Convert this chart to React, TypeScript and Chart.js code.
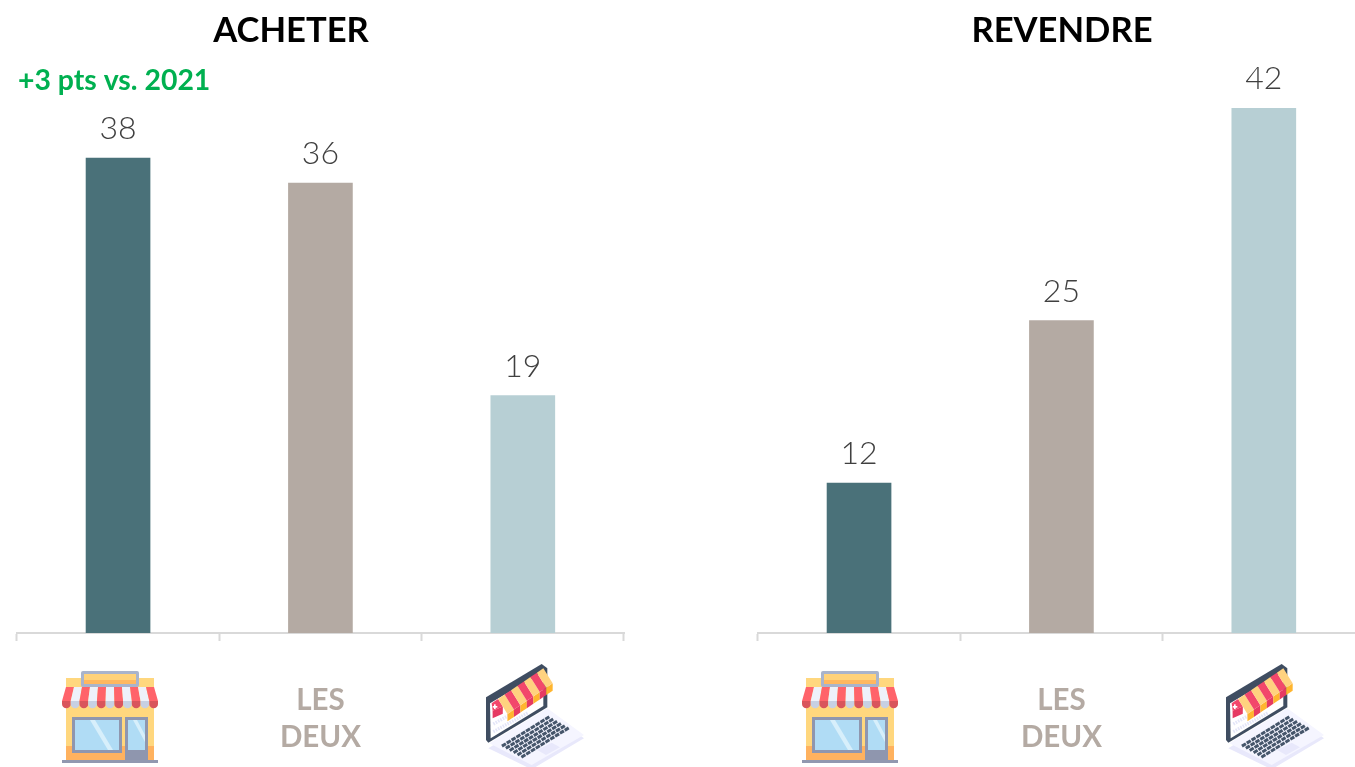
import React, { useEffect, useRef } from "react";
import { Chart, registerables } from "chart.js";

Chart.register(...registerables);

const categories = ["Magasin", "LES DEUX", "Internet"];
const tickLabels = ["", ["LES", "DEUX"], ""];
const acheterValues = [38, 36, 19];
const revendreValues = [12, 25, 42];
const barColors = ["#4a7179", "#b4aaa3", "#b7cfd4"];
const acheterTitle = "ACHETER";
const revendreTitle = "REVENDRE";
const noteText = "+3 pts vs. 2021";

const FONT = "Lato, 'Open Sans', sans-serif";

type PanelProps = {
  left: number;
  values: number[];
  title: string;
  titleX: number;
  note?: string;
};

function Panel({ left, values, title, titleX, note }: PanelProps) {
  const ref = useRef<HTMLCanvasElement | null>(null);
  useEffect(() => {
    const labelPlugin = {
      id: "panelText",
      afterDatasetsDraw(chart: any) {
        const { ctx } = chart;
        ctx.save();
        ctx.textAlign = "center";
        ctx.textBaseline = "middle";
        ctx.fillStyle = "#000000";
        ctx.font = `bold 34.6px ${FONT}`;
        ctx.fillText(title, titleX, 31);
        if (note) {
          ctx.textAlign = "left";
          ctx.fillStyle = "#00b050";
          ctx.font = `bold 28.4px ${FONT}`;
          ctx.fillText(note, 18, 81);
        }
        ctx.textAlign = "center";
        ctx.textBaseline = "alphabetic";
        ctx.fillStyle = "#404040";
        ctx.font = `300 32px ${FONT}`;
        const meta = chart.getDatasetMeta(0);
        meta.data.forEach((bar: any, i: number) => {
          ctx.fillText(String(values[i]), bar.x, bar.y - 19);
        });
        ctx.restore();
      },
    };
    const chart = new Chart(ref.current as HTMLCanvasElement, {
      type: "bar",
      data: {
        labels: categories,
        datasets: [
          {
            data: values,
            backgroundColor: barColors,
            barThickness: 64,
          },
        ],
      },
      options: {
        animation: false,
        responsive: false,
        layout: { padding: { left: 16.85, right: 16, top: 108, bottom: 0 } },
        plugins: {
          legend: { display: false },
          tooltip: { enabled: false },
          title: { display: false },
        },
        scales: {
          y: { display: false, min: 0, max: 42 },
          x: {
            afterFit(scale: any) {
              scale.height = 134;
            },
            border: { display: true, color: "#d9d9d9", width: 2 },
            grid: {
              display: true,
              offset: true,
              drawOnChartArea: false,
              drawTicks: true,
              tickLength: 8,
              tickWidth: 2,
              tickColor: "#d9d9d9",
              color: "#d9d9d9",
            },
            ticks: {
              autoSkip: false,
              maxRotation: 0,
              padding: 41,
              color: "#b4aaa3",
              font: { family: FONT, size: 29.5, weight: "bold", lineHeight: 1.254 },
              callback: (_v: any, i: number) => tickLabels[i] as any,
            },
          },
        },
      },
      plugins: [labelPlugin],
    } as any);
    return () => chart.destroy();
  }, []);
  return (
    <canvas
      ref={ref}
      width={640}
      height={767}
      style={{ position: "absolute", left, top: 0, width: 640, height: 767 }}
    />
  );
}

function Shop({ dx }: { dx: number }) {
  const stripes = Array.from({ length: 11 }, (_, i) => i);
  const w = 96 / 11;
  const topW = 88 / 11;
  return (
    <g transform={`translate(${dx},0)`}>
      <rect x={66} y={678} width={88} height={82} fill="#ffd77e" />
      <rect x={66} y={746} width={88} height={14} fill="#ffb25f" />
      <rect x={81} y={671} width={58} height={16} rx={2} fill="#a9b4cc" />
      <rect x={84} y={674} width={52} height={10} fill="#ffd27a" />
      <rect x={84} y={680} width={52} height={4} fill="#ffb85f" />
      {stripes.map((i) => {
        const red = i % 2 === 0;
        const xb = 62 + i * w;
        const xt = 66 + i * topW;
        return (
          <g key={i}>
            <polygon
              points={`${xt},687 ${xt + topW},687 ${xb + w},701 ${xb},701`}
              fill={red ? "#ff636a" : "#eef1fa"}
            />
            <path
              d={`M${xb},701 h${w} v3 a${w / 2},${w / 2} 0 0 1 ${-w},0 z`}
              fill={red ? "#d9545c" : "#c7d0e3"}
            />
          </g>
        );
      })}
      <rect x={72} y={717} width={50} height={36} fill="#8f96ae" />
      <rect x={75} y={720} width={44} height={30} fill="#b0dcf5" />
      <polygon points="90,720 95,720 113,750 108,750" fill="#d7effb" />
      <rect x={125} y={717} width={23} height={43} fill="#8f96ae" />
      <rect x={128} y={720} width={17} height={30} fill="#b0dcf5" />
      <polygon points="133,720 137,720 145,735 145,742" fill="#d7effb" />
      <rect x={62} y={760} width={96} height={3} fill="#9198b0" />
    </g>
  );
}

function Laptop({ dx }: { dx: number }) {
  const A = [95, 160];
  const B = [250, 55];
  const d = [28, 45];
  const n = 8;
  const K1 = [120, 285];
  const K2 = [262, 197];
  const K4 = [190, 325];
  return (
    <g transform={`translate(${460 + dx},650) scale(${1 / 3})`}>
      <polygon points="85,295 262,185 372,265 215,358" fill="#e8e8fb" />
      <polygon points="88,280 262,175 372,255 215,345" fill="#f5f5ff" />
      {[0, 1, 2, 3, 4, 5].map((r) => {
        const f = (r + 0.5) / 6;
        const ox = (K4[0] - K1[0]) * f;
        const oy = (K4[1] - K1[1]) * f;
        return (
          <line
            key={r}
            x1={K1[0] + ox}
            y1={K1[1] + oy}
            x2={K2[0] + ox}
            y2={K2[1] + oy}
            stroke="#46566b"
            strokeWidth={9}
            strokeDasharray="14 3"
          />
        );
      })}
      <polygon points="232,300 275,278 300,292 258,315" fill="#e8e8fb" />
      <polygon points="78,142 245,42 262,55 262,172 85,278 78,270" fill="#3f4d61" />
      <polygon points="90,160 250,65 250,168 92,265" fill="#ffffff" />
      <line x1={100} y1={222} x2={225} y2={152} stroke="#e4e6f8" strokeWidth={10} strokeDasharray="5 3" />
      <line x1={100} y1={245} x2={205} y2={188} stroke="#e4e6f8" strokeWidth={10} strokeDasharray="5 3" />
      {Array.from({ length: n }, (_, i) => i).map((i) => {
        const t1 = i / n;
        const t2 = (i + 1) / n;
        const p1 = [A[0] + (B[0] - A[0]) * t1, A[1] + (B[1] - A[1]) * t1];
        const p2 = [A[0] + (B[0] - A[0]) * t2, A[1] + (B[1] - A[1]) * t2];
        const p3 = [p2[0] + d[0] * (i === 0 ? 0.5 : 1), p2[1] + d[1] * (i === 0 ? 0.5 : 1)];
        const p4 = [p1[0] + d[0] * (i === 0 ? 0.1 : 1), p1[1] + d[1] * (i === 0 ? 0.5 : 1)];
        const pink = i % 2 === 0;
        return (
          <g key={i}>
            <polygon
              points={`${p4[0]},${p4[1]} ${p3[0]},${p3[1]} ${p3[0]},${p3[1] + 22} ${p4[0]},${p4[1] + 22}`}
              fill={pink ? "#e63a62" : "#ffb52e"}
            />
            <polygon
              points={`${p1[0]},${p1[1]} ${p2[0]},${p2[1]} ${p3[0]},${p3[1]} ${p4[0]},${p4[1]}`}
              fill={pink ? "#f2476b" : "#ffd27f"}
            />
          </g>
        );
      })}
      <rect x={98} y={168} width={14} height={5} fill="#ffffff" />
      <rect x={102} y={163} width={5} height={14} fill="#ffffff" />
    </g>
  );
}

export default function App() {
  return (
    <div
      style={{
        position: "fixed",
        left: 0,
        top: 0,
        width: 1355,
        height: 767,
        overflow: "hidden",
        background: "#ffffff",
      }}
    >
      <Panel left={0} values={acheterValues} title={acheterTitle} titleX={291} note={noteText} />
      <Panel left={741} values={revendreValues} title={revendreTitle} titleX={321} />
      <svg
        width={1355}
        height={767}
        style={{ position: "absolute", left: 0, top: 0, pointerEvents: "none" }}
      >
        <Shop dx={0} />
        <Laptop dx={0} />
        <Shop dx={740} />
        <Laptop dx={740} />
      </svg>
    </div>
  );
}
